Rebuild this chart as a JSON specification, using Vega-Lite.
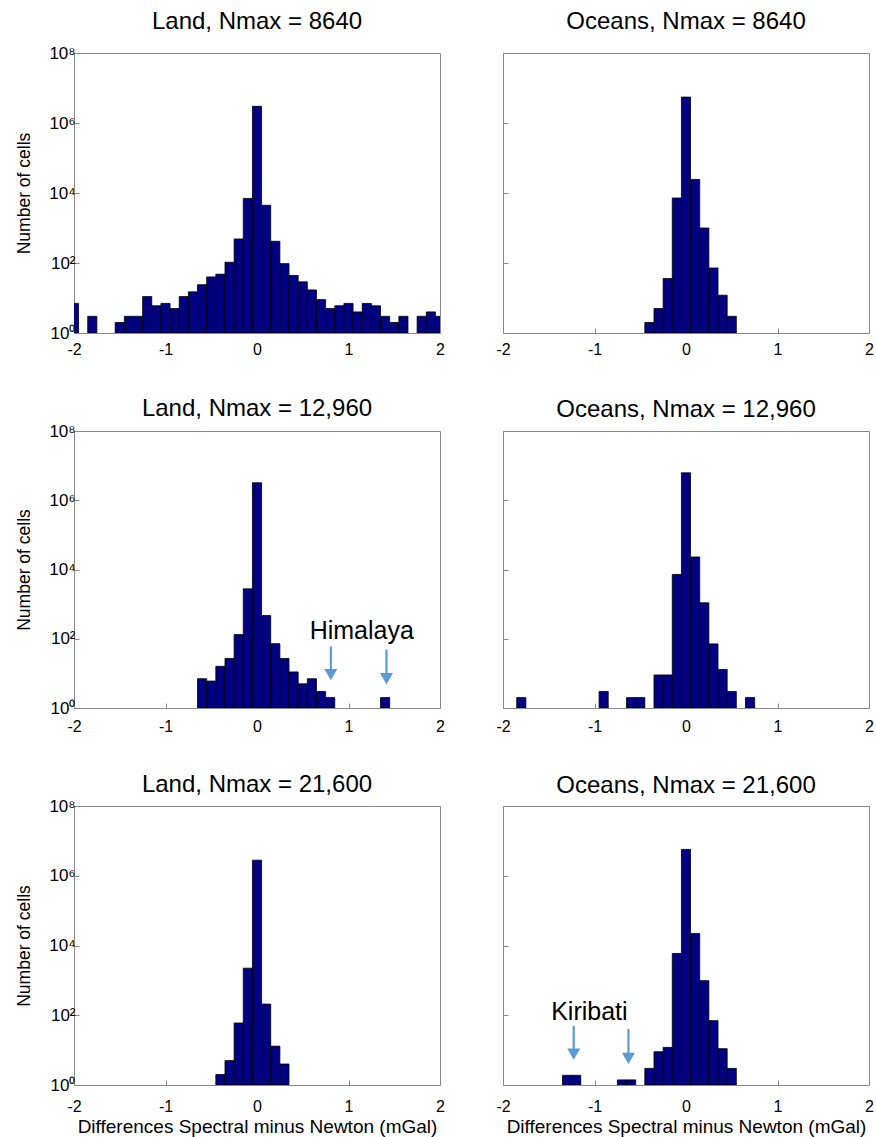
{
"$schema": "https://vega.github.io/schema/vega-lite/v6.json",
"padding": {"left": 15, "top": 9, "right": 5, "bottom": 3},
"background": "white",
"datasets": {
"bars": [
{"panel":"L8640","lo":-2.05,"hi":-1.95,"n":7},
{"panel":"L8640","lo":-1.85,"hi":-1.75,"n":3},
{"panel":"L8640","lo":-1.55,"hi":-1.45,"n":2},
{"panel":"L8640","lo":-1.45,"hi":-1.35,"n":3},
{"panel":"L8640","lo":-1.35,"hi":-1.25,"n":3},
{"panel":"L8640","lo":-1.25,"hi":-1.15,"n":11},
{"panel":"L8640","lo":-1.15,"hi":-1.05,"n":6},
{"panel":"L8640","lo":-1.05,"hi":-0.95,"n":7},
{"panel":"L8640","lo":-0.95,"hi":-0.85,"n":5},
{"panel":"L8640","lo":-0.85,"hi":-0.75,"n":11},
{"panel":"L8640","lo":-0.75,"hi":-0.65,"n":15},
{"panel":"L8640","lo":-0.65,"hi":-0.55,"n":24},
{"panel":"L8640","lo":-0.55,"hi":-0.45,"n":40},
{"panel":"L8640","lo":-0.45,"hi":-0.35,"n":48},
{"panel":"L8640","lo":-0.35,"hi":-0.25,"n":105},
{"panel":"L8640","lo":-0.25,"hi":-0.15,"n":486},
{"panel":"L8640","lo":-0.15,"hi":-0.05,"n":7000},
{"panel":"L8640","lo":-0.05,"hi":0.05,"n":3000000},
{"panel":"L8640","lo":0.05,"hi":0.15,"n":4450},
{"panel":"L8640","lo":0.15,"hi":0.25,"n":417},
{"panel":"L8640","lo":0.25,"hi":0.35,"n":96},
{"panel":"L8640","lo":0.35,"hi":0.45,"n":44},
{"panel":"L8640","lo":0.45,"hi":0.55,"n":29},
{"panel":"L8640","lo":0.55,"hi":0.65,"n":17},
{"panel":"L8640","lo":0.65,"hi":0.75,"n":9},
{"panel":"L8640","lo":0.75,"hi":0.85,"n":5},
{"panel":"L8640","lo":0.85,"hi":0.95,"n":6},
{"panel":"L8640","lo":0.95,"hi":1.05,"n":7},
{"panel":"L8640","lo":1.05,"hi":1.15,"n":4},
{"panel":"L8640","lo":1.15,"hi":1.25,"n":7},
{"panel":"L8640","lo":1.25,"hi":1.35,"n":6},
{"panel":"L8640","lo":1.35,"hi":1.45,"n":3},
{"panel":"L8640","lo":1.45,"hi":1.55,"n":2},
{"panel":"L8640","lo":1.55,"hi":1.65,"n":3},
{"panel":"L8640","lo":1.75,"hi":1.85,"n":3},
{"panel":"L8640","lo":1.85,"hi":1.95,"n":4},
{"panel":"L8640","lo":1.95,"hi":2.05,"n":3},
{"panel":"O8640","lo":-0.45,"hi":-0.35,"n":2},
{"panel":"O8640","lo":-0.35,"hi":-0.25,"n":5},
{"panel":"O8640","lo":-0.25,"hi":-0.15,"n":36},
{"panel":"O8640","lo":-0.15,"hi":-0.05,"n":7200},
{"panel":"O8640","lo":-0.05,"hi":0.05,"n":5500000},
{"panel":"O8640","lo":0.05,"hi":0.15,"n":24500},
{"panel":"O8640","lo":0.15,"hi":0.25,"n":1000},
{"panel":"O8640","lo":0.25,"hi":0.35,"n":72},
{"panel":"O8640","lo":0.35,"hi":0.45,"n":12},
{"panel":"O8640","lo":0.45,"hi":0.55,"n":3},
{"panel":"L12960","lo":-0.65,"hi":-0.55,"n":7},
{"panel":"L12960","lo":-0.55,"hi":-0.45,"n":6},
{"panel":"L12960","lo":-0.45,"hi":-0.35,"n":16},
{"panel":"L12960","lo":-0.35,"hi":-0.25,"n":27},
{"panel":"L12960","lo":-0.25,"hi":-0.15,"n":132},
{"panel":"L12960","lo":-0.15,"hi":-0.05,"n":2760},
{"panel":"L12960","lo":-0.05,"hi":0.05,"n":3200000},
{"panel":"L12960","lo":0.05,"hi":0.15,"n":468},
{"panel":"L12960","lo":0.15,"hi":0.25,"n":72},
{"panel":"L12960","lo":0.25,"hi":0.35,"n":27},
{"panel":"L12960","lo":0.35,"hi":0.45,"n":11},
{"panel":"L12960","lo":0.45,"hi":0.55,"n":5},
{"panel":"L12960","lo":0.55,"hi":0.65,"n":7},
{"panel":"L12960","lo":0.65,"hi":0.75,"n":3},
{"panel":"L12960","lo":0.75,"hi":0.85,"n":2},
{"panel":"L12960","lo":1.35,"hi":1.45,"n":2},
{"panel":"O12960","lo":-1.85,"hi":-1.75,"n":2},
{"panel":"O12960","lo":-0.95,"hi":-0.85,"n":3},
{"panel":"O12960","lo":-0.65,"hi":-0.55,"n":2},
{"panel":"O12960","lo":-0.55,"hi":-0.45,"n":2},
{"panel":"O12960","lo":-0.35,"hi":-0.25,"n":9},
{"panel":"O12960","lo":-0.25,"hi":-0.15,"n":9},
{"panel":"O12960","lo":-0.15,"hi":-0.05,"n":7200},
{"panel":"O12960","lo":-0.05,"hi":0.05,"n":6200000},
{"panel":"O12960","lo":0.05,"hi":0.15,"n":23000},
{"panel":"O12960","lo":0.15,"hi":0.25,"n":1090},
{"panel":"O12960","lo":0.25,"hi":0.35,"n":71},
{"panel":"O12960","lo":0.35,"hi":0.45,"n":13},
{"panel":"O12960","lo":0.45,"hi":0.55,"n":3},
{"panel":"O12960","lo":0.65,"hi":0.75,"n":2},
{"panel":"L21600","lo":-0.45,"hi":-0.35,"n":2},
{"panel":"L21600","lo":-0.35,"hi":-0.25,"n":5},
{"panel":"L21600","lo":-0.25,"hi":-0.15,"n":60},
{"panel":"L21600","lo":-0.15,"hi":-0.05,"n":2240},
{"panel":"L21600","lo":-0.05,"hi":0.05,"n":2800000},
{"panel":"L21600","lo":0.05,"hi":0.15,"n":209},
{"panel":"L21600","lo":0.15,"hi":0.25,"n":13},
{"panel":"L21600","lo":0.25,"hi":0.35,"n":4},
{"panel":"O21600","lo":-1.35,"hi":-1.25,"n":1.9},
{"panel":"O21600","lo":-1.25,"hi":-1.15,"n":1.9},
{"panel":"O21600","lo":-0.75,"hi":-0.65,"n":1.4},
{"panel":"O21600","lo":-0.65,"hi":-0.55,"n":1.4},
{"panel":"O21600","lo":-0.45,"hi":-0.35,"n":3},
{"panel":"O21600","lo":-0.35,"hi":-0.25,"n":9},
{"panel":"O21600","lo":-0.25,"hi":-0.15,"n":12},
{"panel":"O21600","lo":-0.15,"hi":-0.05,"n":5900},
{"panel":"O21600","lo":-0.05,"hi":0.05,"n":5700000},
{"panel":"O21600","lo":0.05,"hi":0.15,"n":22000},
{"panel":"O21600","lo":0.15,"hi":0.25,"n":980},
{"panel":"O21600","lo":0.25,"hi":0.35,"n":70},
{"panel":"O21600","lo":0.35,"hi":0.45,"n":11},
{"panel":"O21600","lo":0.45,"hi":0.55,"n":3}
],
"notes": [
{"panel":"L12960","x":1.145,"y":165,"label":"Himalaya"},
{"panel":"O21600","x":-1.056,"y":120,"label":"Kiribati"}
],
"arrows": [
{"panel":"L12960","x":0.807,"from":60,"to":9.2},
{"panel":"L12960","x":1.415,"from":49,"to":7},
{"panel":"O21600","x":-1.227,"from":50,"to":7.7},
{"panel":"O21600","x":-0.629,"from":40,"to":5.8}
]
},
"columns": 2,
"spacing": {"row": 98, "column": 63},
"bounds": "flush",
"concat": [
{"width":366,"height":280,"title":{"text":"Land, Nmax = 8640","offset":10},
 "data":{"name":"bars"},"transform":[{"filter":"datum.panel == 'L8640'"}],
 "mark":{"type":"bar","fill":"#000080","stroke":"#000000","strokeWidth":0.8,"clip":true},
 "encoding":{
  "x":{"field":"lo","type":"quantitative","scale":{"domain":[-2,2],"nice":false,"zero":false},"axis":{"values":[-2,-1,0,1,2],"labelExpr":"toString(datum.value)","labelPadding":13,"title":null}},
  "x2":{"field":"hi"},
  "y":{"field":"n","type":"quantitative","scale":{"type":"log","domain":[1,100000000]},"axis":{"values":[1,100,10000,1000000,100000000],"labelExpr":"datum.value == 1 ? '10⁰' : datum.value == 100 ? '10²' : datum.value == 10000 ? '10⁴' : datum.value == 1000000 ? '10⁶' : '10⁸'","labelFontSize":17,"title":"Number of cells"}},
  "y2":{"datum":1}}},
{"width":366,"height":280,"title":{"text":"Oceans, Nmax = 8640","offset":19},
 "data":{"name":"bars"},"transform":[{"filter":"datum.panel == 'O8640'"}],
 "mark":{"type":"bar","fill":"#000080","stroke":"#000000","strokeWidth":0.8,"clip":true},
 "encoding":{
  "x":{"field":"lo","type":"quantitative","scale":{"domain":[-2,2],"nice":false,"zero":false},"axis":{"values":[-2,-1,0,1,2],"labelExpr":"toString(datum.value)","labelPadding":13,"title":null}},
  "x2":{"field":"hi"},
  "y":{"field":"n","type":"quantitative","scale":{"type":"log","domain":[1,100000000]},"axis":{"values":[1,100,10000,1000000,100000000],"labels":false,"title":null}},
  "y2":{"datum":1}}},
{"width":366,"height":277,"title":{"text":"Land, Nmax = 12,960","offset":1},
 "layer":[
 {"data":{"name":"bars"},"transform":[{"filter":"datum.panel == 'L12960'"}],
  "mark":{"type":"bar","fill":"#000080","stroke":"#000000","strokeWidth":0.8,"clip":true},
  "encoding":{
   "x":{"field":"lo","type":"quantitative","scale":{"domain":[-2,2],"nice":false,"zero":false},"axis":{"values":[-2,-1,0,1,2],"labelExpr":"toString(datum.value)","labelPadding":15,"title":null}},
   "x2":{"field":"hi"},
   "y":{"field":"n","type":"quantitative","scale":{"type":"log","domain":[1,100000000]},"axis":{"values":[1,100,10000,1000000,100000000],"labelExpr":"datum.value == 1 ? '10⁰' : datum.value == 100 ? '10²' : datum.value == 10000 ? '10⁴' : datum.value == 1000000 ? '10⁶' : '10⁸'","labelFontSize":17,"title":"Number of cells"}},
   "y2":{"datum":1}}},
 {"data":{"name":"arrows"},"transform":[{"filter":"datum.panel == 'L12960'"}],
  "mark":{"type":"rule","color":"#5B9BD5","strokeWidth":2.2},
  "encoding":{"x":{"field":"x","type":"quantitative","title":null},"y":{"field":"from","type":"quantitative","title":"Number of cells"},"y2":{"field":"to"}}},
 {"data":{"name":"arrows"},"transform":[{"filter":"datum.panel == 'L12960'"}],
  "mark":{"type":"point","shape":"triangle-down","filled":true,"color":"#5B9BD5","size":170,"opacity":1},
  "encoding":{"x":{"field":"x","type":"quantitative","title":null},"y":{"field":"to","type":"quantitative","title":"Number of cells"}}},
 {"data":{"name":"notes"},"transform":[{"filter":"datum.panel == 'L12960'"}],
  "mark":{"type":"text","fontSize":25,"font":"Liberation Sans","color":"#000000","align":"center","baseline":"middle"},
  "encoding":{"x":{"field":"x","type":"quantitative","title":null},"y":{"field":"y","type":"quantitative","title":"Number of cells"},"text":{"field":"label"}}}
 ]},
{"width":366,"height":277,"title":{"text":"Oceans, Nmax = 12,960","offset":9},
 "data":{"name":"bars"},"transform":[{"filter":"datum.panel == 'O12960'"}],
 "mark":{"type":"bar","fill":"#000080","stroke":"#000000","strokeWidth":0.8,"clip":true},
 "encoding":{
  "x":{"field":"lo","type":"quantitative","scale":{"domain":[-2,2],"nice":false,"zero":false},"axis":{"values":[-2,-1,0,1,2],"labelExpr":"toString(datum.value)","labelPadding":15,"title":null}},
  "x2":{"field":"hi"},
  "y":{"field":"n","type":"quantitative","scale":{"type":"log","domain":[1,100000000]},"axis":{"values":[1,100,10000,1000000,100000000],"labels":false,"title":null}},
  "y2":{"datum":1}}},
{"width":366,"height":279,"title":{"text":"Land, Nmax = 21,600","offset":0},
 "data":{"name":"bars"},"transform":[{"filter":"datum.panel == 'L21600'"}],
 "mark":{"type":"bar","fill":"#000080","stroke":"#000000","strokeWidth":0.8,"clip":true},
 "encoding":{
  "x":{"field":"lo","type":"quantitative","scale":{"domain":[-2,2],"nice":false,"zero":false},"axis":{"values":[-2,-1,0,1,2],"labelExpr":"toString(datum.value)","labelPadding":18,"titlePadding":3,"titleFontSize":19,"title":"Differences Spectral minus Newton (mGal)"}},
  "x2":{"field":"hi"},
  "y":{"field":"n","type":"quantitative","scale":{"type":"log","domain":[1,100000000]},"axis":{"values":[1,100,10000,1000000,100000000],"labelExpr":"datum.value == 1 ? '10⁰' : datum.value == 100 ? '10²' : datum.value == 10000 ? '10⁴' : datum.value == 1000000 ? '10⁶' : '10⁸'","labelFontSize":17,"title":"Number of cells"}},
  "y2":{"datum":1}}},
{"width":366,"height":279,"title":{"text":"Oceans, Nmax = 21,600","offset":8},
 "layer":[
 {"data":{"name":"bars"},"transform":[{"filter":"datum.panel == 'O21600'"}],
  "mark":{"type":"bar","fill":"#000080","stroke":"#000000","strokeWidth":0.8,"clip":true},
  "encoding":{
   "x":{"field":"lo","type":"quantitative","scale":{"domain":[-2,2],"nice":false,"zero":false},"axis":{"values":[-2,-1,0,1,2],"labelExpr":"toString(datum.value)","labelPadding":18,"titlePadding":3,"titleFontSize":19,"title":"Differences Spectral minus Newton (mGal)"}},
   "x2":{"field":"hi"},
   "y":{"field":"n","type":"quantitative","scale":{"type":"log","domain":[1,100000000]},"axis":{"values":[1,100,10000,1000000,100000000],"labels":false,"title":null}},
   "y2":{"datum":1}}},
 {"data":{"name":"arrows"},"transform":[{"filter":"datum.panel == 'O21600'"}],
  "mark":{"type":"rule","color":"#5B9BD5","strokeWidth":2.2},
  "encoding":{"x":{"field":"x","type":"quantitative","title":"Differences Spectral minus Newton (mGal)"},"y":{"field":"from","type":"quantitative","title":null},"y2":{"field":"to"}}},
 {"data":{"name":"arrows"},"transform":[{"filter":"datum.panel == 'O21600'"}],
  "mark":{"type":"point","shape":"triangle-down","filled":true,"color":"#5B9BD5","size":170,"opacity":1},
  "encoding":{"x":{"field":"x","type":"quantitative","title":"Differences Spectral minus Newton (mGal)"},"y":{"field":"to","type":"quantitative","title":null}}},
 {"data":{"name":"notes"},"transform":[{"filter":"datum.panel == 'O21600'"}],
  "mark":{"type":"text","fontSize":25,"font":"Liberation Sans","color":"#000000","align":"center","baseline":"middle"},
  "encoding":{"x":{"field":"x","type":"quantitative","title":"Differences Spectral minus Newton (mGal)"},"y":{"field":"y","type":"quantitative","title":null},"text":{"field":"label"}}}
 ]}
],
"resolve": {"scale": {"x": "independent", "y": "independent"}},
"config": {
 "font": "Liberation Sans",
 "view": {"stroke": "#888888", "strokeWidth": 1},
 "axis": {"grid": false, "domain": false, "ticks": true, "tickSize": -5, "tickColor": "#888888", "labelFontSize": 16, "labelColor": "#000000", "labelPadding": 4, "titleFontSize": 17.5, "titleFontWeight": "normal", "titleColor": "#000000", "titlePadding": 15},
 "axisX": {"labelFlush": false},
 "title": {"fontSize": 24, "fontWeight": "normal", "color": "#000000", "anchor": "middle"}
}
}
